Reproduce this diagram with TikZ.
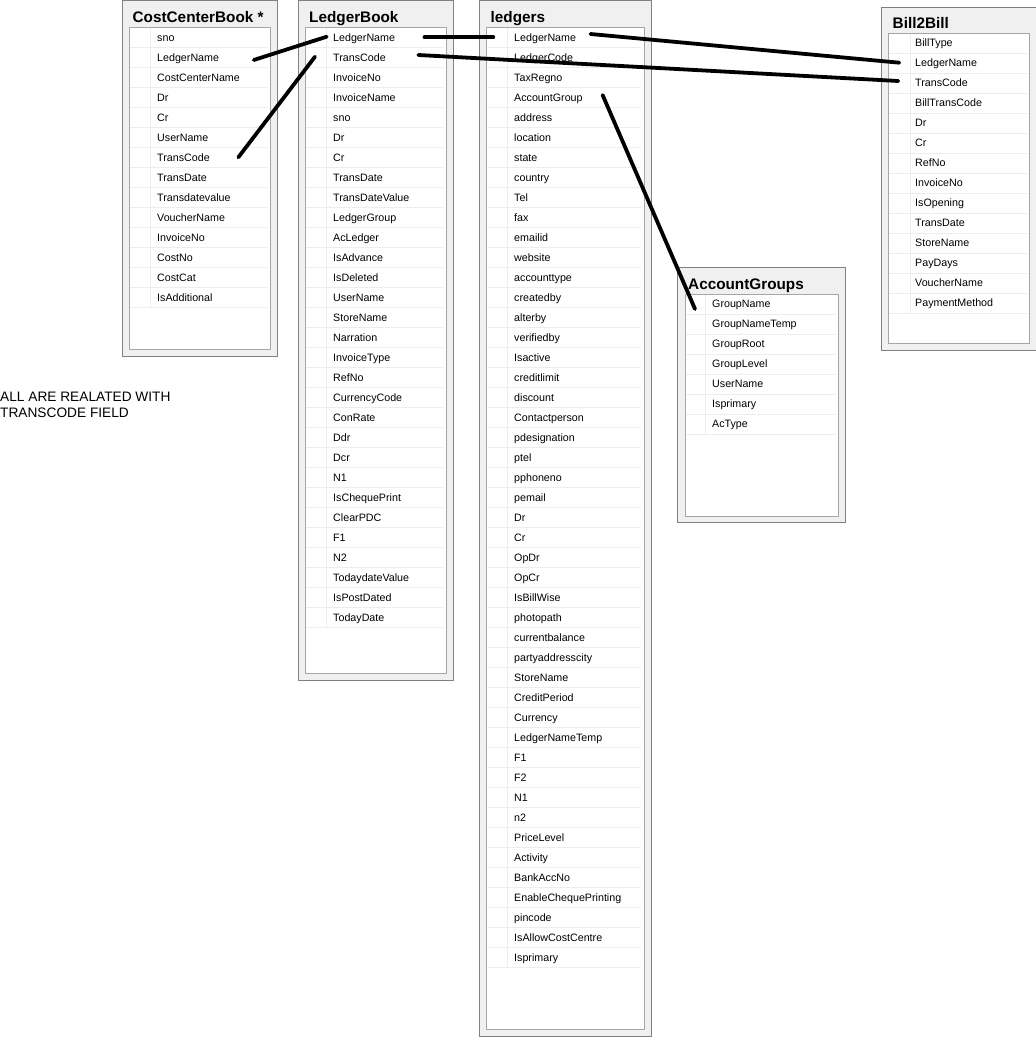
\documentclass[tikz,border=0pt]{standalone}
\usepackage{fontspec}
\setmainfont{Liberation Sans}
\usetikzlibrary{positioning}
\usetikzlibrary{calc}
\definecolor{framefill}{HTML}{F0F0F0}
\definecolor{rowgray}{HTML}{EDEDED}
\tikzstyle{tableframe}=[draw=black!50,fill=framefill,line width=1pt]
\tikzstyle{tablepanel}=[draw=black!35,fill=white,line width=1pt]
\tikzstyle{tabletitle}=[anchor=base west,inner sep=0pt,font=\fontsize{15.3}{18}\selectfont\bfseries]
\tikzstyle{field}=[anchor=base west,inner sep=0pt,font=\fontsize{10.7}{12}\selectfont]
\tikzstyle{rowline}=[draw=rowgray,line width=1pt]
\tikzstyle{relation}=[draw,black,line width=3.8pt,line cap=round]
\tikzstyle{note}=[anchor=north west,inner sep=0pt,align=left,font=\fontsize{13.7}{15.6}\selectfont]
\begin{document}
\begin{tikzpicture}[x=1pt,y=-1pt]
    \useasboundingbox (0,0) rectangle (1036,1037);
    \clip (0,0) rectangle (1036,1037);

    % CostCenterBook
    \draw[tableframe] (122,0.5) rectangle (277,356);
    \draw[tablepanel] (129.5,27.5) rectangle (270.5,349.5);
    \node[tabletitle] (ccbTitle) at (132.5,22.5) {CostCenterBook *};
    \foreach \f [count=\i from 0] in {sno,LedgerName,CostCenterName,Dr,Cr,UserName,TransCode,TransDate,Transdatevalue,VoucherName,InvoiceNo,CostNo,CostCat,IsAdditional}
    {
        \node[field] (ccb\f) at (157,27.5+20*\i+13.5) {\f};
        \draw[rowline] (130,27.5+20*\i+20) -- (267,27.5+20*\i+20);
    }
    \draw[rowline] (150.5,28) -- (150.5,307.5);

    % LedgerBook
    \draw[tableframe] (298.5,0.5) rectangle (453.5,680);
    \draw[tablepanel] (305.5,27.5) rectangle (446.5,673);
    \node[tabletitle] (lbTitle) at (309,22.5) {LedgerBook};
    \foreach \f [count=\i from 0] in {LedgerName,TransCode,InvoiceNo,InvoiceName,sno,Dr,Cr,TransDate,TransDateValue,LedgerGroup,AcLedger,IsAdvance,IsDeleted,UserName,StoreName,Narration,InvoiceType,RefNo,CurrencyCode,ConRate,Ddr,Dcr,N1,IsChequePrint,ClearPDC,F1,N2,TodaydateValue,IsPostDated,TodayDate}
    {
        \node[field] (lb\f) at (333,27.5+20*\i+13.5) {\f};
        \draw[rowline] (306,27.5+20*\i+20) -- (443,27.5+20*\i+20);
    }
    \draw[rowline] (326.5,28) -- (326.5,627.5);

    % ledgers
    \draw[tableframe] (479.5,0.5) rectangle (651.5,1036.5);
    \draw[tablepanel] (486.5,27.5) rectangle (644,1029.5);
    \node[tabletitle] (ldTitle) at (490.5,22.5) {ledgers};
    \foreach \f [count=\i from 0] in {LedgerName,LedgerCode,TaxRegno,AccountGroup,address,location,state,country,Tel,fax,emailid,website,accounttype,createdby,alterby,verifiedby,Isactive,creditlimit,discount,Contactperson,pdesignation,ptel,pphoneno,pemail,Dr,Cr,OpDr,OpCr,IsBillWise,photopath,currentbalance,partyaddresscity,StoreName,CreditPeriod,Currency,LedgerNameTemp,F1,F2,N1,n2,PriceLevel,Activity,BankAccNo,EnableChequePrinting,pincode,IsAllowCostCentre,Isprimary}
    {
        \node[field] (ld\f) at (514,27.5+20*\i+13.5) {\f};
        \draw[rowline] (487,27.5+20*\i+20) -- (641,27.5+20*\i+20);
    }
    \draw[rowline] (507.5,28) -- (507.5,967.5);

    % AccountGroups
    \draw[tableframe] (677.5,267.5) rectangle (845.5,522.5);
    \draw[tablepanel] (685,294) rectangle (838,516);
    \node[tabletitle] (agTitle) at (688,289.5) {AccountGroups};
    \foreach \f [count=\i from 0] in {GroupName,GroupNameTemp,GroupRoot,GroupLevel,UserName,Isprimary,AcType}
    {
        \node[field] (ag\f) at (712,294+20*\i+13.5) {\f};
        \draw[rowline] (685.5,294+20*\i+20) -- (835,294+20*\i+20);
    }
    \draw[rowline] (705.5,294.5) -- (705.5,434);

    % Bill2Bill
    \draw[tableframe] (881.5,7) rectangle (1036,350.5);
    \draw[tablepanel] (888,33) rectangle (1029.5,343.5);
    \node[tabletitle] (bbTitle) at (892.5,28.3) {Bill2Bill};
    \foreach \f [count=\i from 0] in {BillType,LedgerName,TransCode,BillTransCode,Dr,Cr,RefNo,InvoiceNo,IsOpening,TransDate,StoreName,PayDays,VoucherName,PaymentMethod}
    {
        \node[field] (bb\f) at (915,33+20*\i+13.5) {\f};
        \draw[rowline] (888.5,33+20*\i+20) -- (1026.5,33+20*\i+20);
    }
    \draw[rowline] (910,33.5) -- (910,313);

    \node[note] (relNote) at (0,391.8) {ALL ARE REALATED WITH\\TRANSCODE FIELD};

    % relations
    \path[relation] ([xshift=34.5pt,yshift=1pt]ccbLedgerName.base east) -- ([xshift=-6.3pt,yshift=4.3pt]lbLedgerName.base west);
    \path[relation] ([xshift=28.4pt,yshift=3.7pt]ccbTransCode.base east) -- ([xshift=-18pt,yshift=4.3pt]lbTransCode.base west);
    \path[relation] ([xshift=29.2pt,yshift=3.7pt]lbLedgerName.base east) -- ([xshift=-20.7pt,yshift=3.7pt]ldLedgerName.base west);
    \path[relation] ([xshift=32.4pt,yshift=6pt]lbTransCode.base east) -- ([xshift=-16.7pt,yshift=5.5pt]bbTransCode.base west);
    \path[relation] ([xshift=14.2pt,yshift=7pt]ldLedgerName.base east) -- ([xshift=-15.7pt,yshift=3.8pt]bbLedgerName.base west);
    \path[relation] ([xshift=19.8pt,yshift=6pt]ldAccountGroup.base east) -- ([xshift=-17pt,yshift=-1.5pt]agGroupName.base west);
\end{tikzpicture}
\end{document}
